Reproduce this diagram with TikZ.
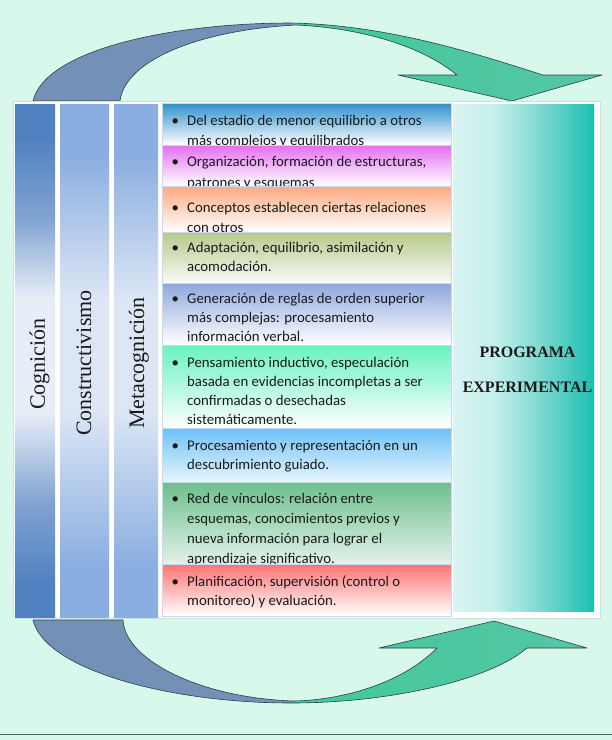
\documentclass[tikz,border=0pt]{standalone}
\usepackage{fontspec}
\setmainfont{Carlito}
\newfontfamily\serifface{Liberation Serif}
\definecolor{bgmint}{HTML}{D7F8EA}
\definecolor{arrowblue}{HTML}{7391B6}
\definecolor{arrowgreen}{HTML}{42C89C}
\definecolor{arrowlight}{HTML}{79B5C9}
\definecolor{arrowgreenb}{HTML}{55C6A4}
\definecolor{arrowline}{HTML}{2C3E4C}
\definecolor{framegray}{HTML}{D3DEEA}
\definecolor{boxline}{HTML}{C9D9EE}
\definecolor{cogdark}{HTML}{4F80BF}
\definecolor{cogmid}{HTML}{7FA2D2}
\definecolor{coglight}{HTML}{E8EEF7}
\definecolor{coldark}{HTML}{8AAEE0}
\definecolor{collight}{HTML}{DCE6F5}
\definecolor{pa}{HTML}{D9F5F3}
\definecolor{pb}{HTML}{C4EFEB}
\definecolor{pc}{HTML}{78D7CE}
\definecolor{pd}{HTML}{1CBFB3}
\definecolor{bA}{HTML}{2F90CC}
\definecolor{bB}{HTML}{E36EF2}
\definecolor{bC}{HTML}{FDAA7E}
\definecolor{bD}{HTML}{B5C98B}
\definecolor{bE}{HTML}{8EA8DC}
\definecolor{bF}{HTML}{68F3C0}
\definecolor{bG}{HTML}{6CC1F7}
\definecolor{bH}{HTML}{6DBF8D}
\definecolor{bI}{HTML}{FF7272}
\definecolor{txt}{HTML}{1A1A1A}
\pgfdeclareverticalshading{cogshade}{100bp}{color(0bp)=(cogdark); color(28bp)=(cogdark); color(36bp)=(cogmid); color(45bp)=(coglight); color(56bp)=(coglight); color(64bp)=(cogmid); color(72bp)=(cogdark); color(100bp)=(cogdark)}
\pgfdeclareverticalshading{colshade}{100bp}{color(0bp)=(coldark); color(30bp)=(coldark); color(45bp)=(collight); color(56bp)=(collight); color(70bp)=(coldark); color(100bp)=(coldark)}
\pgfdeclarehorizontalshading{progshade}{100bp}{color(0bp)=(pa); color(25bp)=(pa); color(40bp)=(pb); color(57bp)=(pc); color(75bp)=(pd); color(100bp)=(pd)}
\tikzset{
  arrowleft/.style={fill=arrowblue},
  arrowright/.style={left color=arrowgreen, middle color=arrowlight, right color=arrowgreenb},
  arrowedge/.style={draw=arrowline, line width=0.6pt, line join=round},
  itembox/.style={draw=boxline, line width=0.8pt},
  itemtext/.style={anchor=base west, inner sep=0pt, align=left, text=txt, font=\fontsize{14.8}{19}\selectfont},
  itemtextwide/.style={itemtext, font=\fontsize{14.8}{20.5}\selectfont},
  collabel/.style={rotate=90, anchor=base, inner sep=0pt, text=txt, font=\serifface\fontsize{22}{26}\selectfont},
}
\newcommand{\bul}{\makebox[7.4pt][c]{\textbullet}\hspace*{8.3pt}}
\newcommand{\ind}{\hspace*{15.7pt}}
\begin{document}
\begin{tikzpicture}[x=1pt,y=-1pt]
\useasboundingbox (0,0) rectangle (612,740);
\fill[bgmint] (0,0) rectangle (612,740);
\draw[arrowline!80, line width=1pt] (0,734) -- (612,734);

% top arrow
\path[arrowleft] (33,101) .. controls (45,50) and (170,23) .. (291,23) -- (296,25) .. controls (200,30) and (125,60) .. (120,101) -- cycle;
\shade[arrowright] (291,23) .. controls (390,25) and (480,55) .. (543,75) -- (602,75) -- (512,101) -- (398,75) -- (457,75) .. controls (420,45) and (360,28) .. (296,25) -- cycle;
\draw[arrowedge] (33,101) .. controls (45,50) and (170,23) .. (291,23) .. controls (390,25) and (480,55) .. (543,75) -- (602,75) -- (512,101) -- (398,75) -- (457,75) .. controls (420,45) and (360,28) .. (296,25) .. controls (200,30) and (125,60) .. (120,101) -- cycle;

% bottom arrow
\path[arrowleft] (33,620) .. controls (45,670) and (170,703) .. (291,703) -- (294,701) .. controls (200,698) and (125,660) .. (123,620) -- cycle;
\shade[arrowright] (291,703) .. controls (390,703) and (490,680) .. (527,648) -- (587,648) -- (494,621) -- (379,648) -- (437,648) .. controls (400,685) and (340,700) .. (294,701) -- cycle;
\draw[arrowedge] (33,620) .. controls (45,670) and (170,703) .. (291,703) .. controls (390,703) and (490,680) .. (527,648) -- (587,648) -- (494,621) -- (379,648) -- (437,648) .. controls (400,685) and (340,700) .. (294,701) .. controls (200,698) and (125,660) .. (123,620) -- cycle;

% white panel
\draw[framegray, fill=white, line width=0.8pt] (13,101) rectangle (600,618);

% columns
\shade[shading=cogshade] (15,104) rectangle (55,617);
\shade[shading=colshade] (60,104) rectangle (109,617);
\shade[shading=colshade] (114,104) rectangle (158,617);
\node[collabel] (cog) at (45,364) {Cognición};
\node[collabel] (cons) at (91,363) {Constructivismo};
\node[collabel] (meta) at (144,363) {Metacognición};

% item boxes (anchor = baseline of the last line)
\shade[itembox, top color=bA, bottom color=white] (162,103) rectangle (451,145);
\node[itemtextwide] (t1) at (171.3,145.5) {\bul Del estadio de menor equilibrio a otros\\\ind más complejos y equilibrados};
\shade[itembox, top color=bB, bottom color=white] (162,145) rectangle (451,186);
\node[itemtextwide] (t2) at (171.3,187) {\bul Organización, formación de estructuras,\\\ind patrones y esquemas};
\shade[itembox, top color=bC, bottom color=white] (162,186) rectangle (451,232);
\node[itemtextwide] (t3) at (171.3,232.5) {\bul Conceptos establecen ciertas relaciones\\\ind con otros};
\shade[itembox, top color=bD, bottom color=white!92!bD] (162,232) rectangle (451,283);
\node[itemtext] (t4) at (171.3,271) {\bul Adaptación, equilibrio, asimilación y\\\ind acomodación.};
\shade[itembox, top color=bE, bottom color=white] (162,283) rectangle (451,345);
\node[itemtext] (t5) at (171.3,341) {\bul Generación de reglas de orden superior\\\ind más complejas: procesamiento\\\ind información verbal.};
\shade[itembox, top color=bF, bottom color=white] (162,345) rectangle (451,428);
\node[itemtext] (t6) at (171.3,424) {\bul Pensamiento inductivo, especulación\\\ind basada en evidencias incompletas a ser\\\ind confirmadas o desechadas\\\ind sistemáticamente.};
\shade[itembox, top color=bG, bottom color=white!85!bG] (162,428) rectangle (451,482);
\node[itemtext] (t7) at (171.3,469) {\bul Procesamiento y representación en un\\\ind descubrimiento guiado.};
\shade[itembox, top color=bH, bottom color=white!80!bH] (162,482) rectangle (451,564);
\node[itemtext, font=\fontsize{14.8}{20}\selectfont] (t8) at (171.3,563.5) {\bul Red de vínculos: relación entre\\\ind esquemas, conocimientos previos y\\\ind nueva información para lograr el\\\ind aprendizaje significativo.};
\shade[itembox, top color=bI, bottom color=white] (162,564) rectangle (451,616);
\node[itemtext] (t9) at (171.3,605) {\bul Planificación, supervisión (control o\\\ind monitoreo) y evaluación.};

% right box
\shade[shading=progshade] (453,104) rectangle (594,611);
\node[anchor=base, inner sep=0pt, align=center, text=txt, font=\serifface\bfseries\fontsize{16}{35}\selectfont] (prog) at (527.5,392.8) {PROGRAMA\\EXPERIMENTAL};
\end{tikzpicture}
\end{document}
